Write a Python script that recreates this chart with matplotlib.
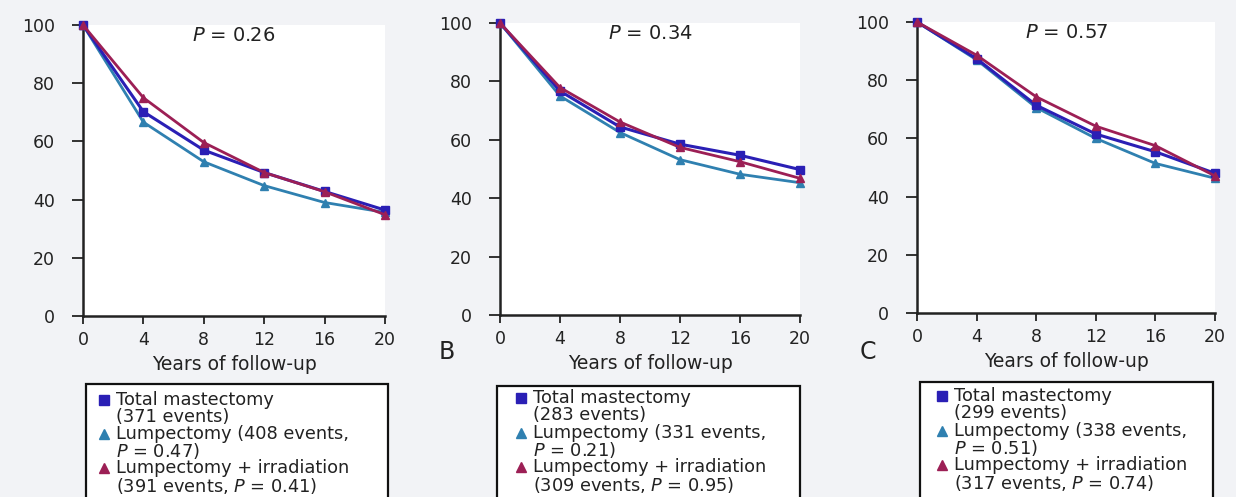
import matplotlib
matplotlib.use("Agg")
import matplotlib.pyplot as plt
from matplotlib.patches import Rectangle
from matplotlib.lines import Line2D

plt.rcParams['font.family'] = ['DejaVu Sans']
plt.rcParams['mathtext.fontset'] = 'dejavusans'

years = [0, 4, 8, 12, 16, 20]

# panel A
a_total = [100, 70.2, 57.0, 49.3, 42.8, 36.4]
a_lump = [100, 66.6, 53.0, 44.8, 39.0, 35.6]
a_irr = [100, 75.0, 59.6, 49.3, 42.7, 34.8]
# panel B
b_total = [100, 76.7, 64.4, 58.5, 54.7, 49.8]
b_lump = [100, 75.0, 62.5, 53.2, 48.2, 45.3]
b_irr = [100, 77.9, 66.1, 57.4, 52.5, 46.8]
# panel C
c_total = [100, 87.4, 71.4, 61.5, 55.4, 48.0]
c_lump = [100, 87.0, 70.6, 60.0, 51.4, 46.3]
c_irr = [100, 88.6, 74.3, 64.2, 57.5, 47.1]

p_values = ["0.26", "0.34", "0.57"]
panel_letters = ["", "B", "C"]
legend_texts = [
    ["Total mastectomy", "(371 events)", "Lumpectomy (408 events,", "$P$ = 0.47)",
     "Lumpectomy + irradiation", "(391 events, $P$ = 0.41)"],
    ["Total mastectomy", "(283 events)", "Lumpectomy (331 events,", "$P$ = 0.21)",
     "Lumpectomy + irradiation", "(309 events, $P$ = 0.95)"],
    ["Total mastectomy", "(299 events)", "Lumpectomy (338 events,", "$P$ = 0.51)",
     "Lumpectomy + irradiation", "(317 events, $P$ = 0.74)"],
]

BLUE = '#2a1fb5'
TEAL = '#2f80b0'
MAROON = '#9c1f55'
INK = '#222222'

W, H = 1236, 497
fig = plt.figure(figsize=(W / 100, H / 100), dpi=100, facecolor='#f2f3f6')

def fx(px):
    return px / W

def fy(py):
    return 1 - py / H

# axes boxes in pixels: left, right, y of 0, y of 100
boxes = [(83, 385, 316, 25), (500, 800, 315, 23), (917, 1215, 313, 22)]
series = [(a_total, a_lump, a_irr), (b_total, b_lump, b_irr), (c_total, c_lump, c_irr)]

for i, (l, r, b, t) in enumerate(boxes):
    ax = fig.add_axes([fx(l), fy(b), fx(r - l), (b - t) / H])
    ax.set_facecolor('white')
    tot, lump, irr = series[i]
    ax.plot(years, lump, color=TEAL, lw=2, marker='^', ms=6, clip_on=False, zorder=3)
    ax.plot(years, tot, color=BLUE, lw=2.2, marker='s', ms=6, clip_on=False, zorder=4)
    ax.plot(years, irr, color=MAROON, lw=2, marker='^', ms=6, clip_on=False, zorder=5)
    ax.set_xlim(0, 20)
    ax.set_ylim(0, 100)
    ax.set_xticks(years)
    ax.set_yticks([0, 20, 40, 60, 80, 100])
    for s in ['top', 'right']:
        ax.spines[s].set_visible(False)
    for s in ['left', 'bottom']:
        ax.spines[s].set_linewidth(1.8)
        ax.spines[s].set_color(INK)
    ax.tick_params(axis='y', length=8, width=1.3, labelsize=12.5, pad=12, colors=INK)
    ax.tick_params(axis='x', length=6, width=1.3, labelsize=12.5, pad=5, colors=INK)
    ax.set_xlabel("Years of follow-up", fontsize=13.5, labelpad=4, color=INK)
    ax.text(10, 96.5, "$P$ = " + p_values[i], ha='center', va='center', fontsize=14, color=INK)

for letter, px in zip(panel_letters, [0, 447, 868]):
    if letter:
        fig.text(fx(px), fy(352), letter, ha='center', va='center', fontsize=17, color=INK)

# legend boxes (bottom edge runs off the page)
legend_geom = [
    # left, right, top, marker x, text x, line ys
    (86, 388, 384, 104, 116, [400, 417, 434, 451, 468, 486]),
    (497, 800, 386, 521, 533, [398, 415, 433, 450, 467, 485]),
    (920, 1213, 382, 942, 954, [396, 413, 431, 448, 465, 483]),
]
for i, (l, r, t, mx, tx, ys) in enumerate(legend_geom):
    fig.add_artist(Rectangle((fx(l), fy(H + 20)), fx(r - l), (H + 20 - t) / H,
                             transform=fig.transFigure, facecolor='white',
                             edgecolor='#111111', lw=1.6, clip_on=False))
    for j, txt in enumerate(legend_texts[i]):
        fig.text(fx(tx), fy(ys[j]), txt, ha='left', va='center', fontsize=12.8, color=INK)
    for j, (mk, col) in zip([0, 2, 4], [('s', BLUE), ('^', TEAL), ('^', MAROON)]):
        fig.add_artist(Line2D([fx(mx)], [fy(ys[j])], marker=mk, color=col, ms=7,
                              linestyle='none', transform=fig.transFigure))

fig.savefig("out.png", dpi=100, facecolor=fig.get_facecolor())
